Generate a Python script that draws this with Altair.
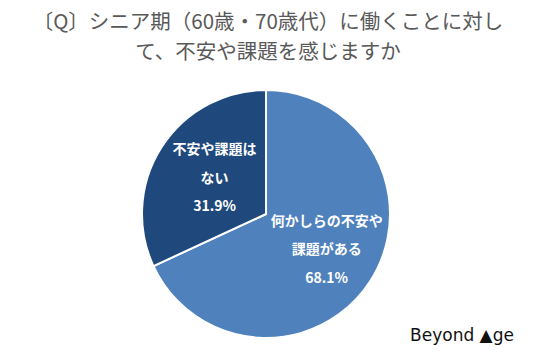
import altair as alt
import pandas as pd

categories = ["何かしらの不安や課題がある", "不安や課題はない"]
values = [68.1, 31.9]
labels = ["何かしらの不安や\n課題がある\n68.1%", "不安や課題は\nない\n31.9%"]
colors = ["#4f81bd", "#1f497d"]

df = pd.DataFrame({"cat": categories, "value": values, "label": labels, "order": [0, 1]})

CX, CY = 261, 145

arc = alt.Chart(df).mark_arc(outerRadius=124, stroke="white", strokeWidth=2).encode(
    theta=alt.Theta("value:Q", stack=True),
    order=alt.Order("order:Q"),
    color=alt.Color("cat:N", scale=alt.Scale(domain=categories, range=colors), legend=None),
    x=alt.value(CX), y=alt.value(CY),
)

text = alt.Chart(df).transform_joinaggregate(
    total="sum(value)"
).transform_window(
    cum="sum(value)", sort=[alt.SortField("order")]
).transform_calculate(
    mid="(datum.cum - datum.value / 2) / datum.total * 2 * PI",
    rad="datum.order == 0 ? 72 : 61",
).mark_text(
    color="white", fontSize=14, fontWeight="bold", lineBreak="\n", lineHeight=28.5,
    font="Noto Sans CJK JP", align="center", baseline="middle", dy=-31,
).encode(
    text="label:N",
    theta=alt.Theta("mid:Q", scale=None),
    radius=alt.Radius("rad:Q", scale=None),
    x=alt.value(CX), y=alt.value(CY),
)

brand = alt.Chart(pd.DataFrame({"t": ["Beyond ▲ge"]})).mark_text(
    fontSize=17, font="DejaVu Sans", color="#111111", align="center", baseline="middle"
).encode(text="t:N", x=alt.value(457), y=alt.value(267))

chart = alt.layer(arc, text, brand).properties(
    width=536, height=353,
    padding={"top": 12, "left": 5, "right": 5, "bottom": 5},
    autosize=alt.AutoSizeParams(type="fit", contains="padding"),
    title=alt.TitleParams(
        text=["〔Q〕シニア期（60歳・70歳代）に働くことに対し", "て、不安や課題を感じますか"],
        fontSize=20.5, lineHeight=30, font="Noto Sans CJK JP", fontWeight="normal",
        color="#595959", anchor="middle", offset=6,
    ),
).configure_view(stroke=None)

chart.save("out.html", embed_options={"renderer": "svg", "actions": False})
